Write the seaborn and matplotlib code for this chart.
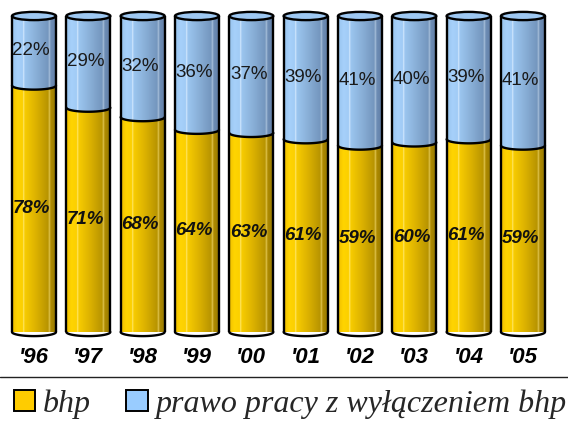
import numpy as np
import pandas as pd
import matplotlib.pyplot as plt
import seaborn as sns
from matplotlib.path import Path
from matplotlib.patches import PathPatch, Ellipse, Patch
from matplotlib.lines import Line2D
from matplotlib.colors import LinearSegmentedColormap

# data
years = ["'96", "'97", "'98", "'99", "'00", "'01", "'02", "'03", "'04", "'05"]
bhp = [78, 71, 68, 64, 63, 61, 59, 60, 61, 59]
prawo = [22, 29, 32, 36, 37, 39, 41, 40, 39, 41]

df = pd.DataFrame({"year": years, "bhp": bhp, "prawo": prawo})
df["total"] = df["bhp"] + df["prawo"]

gold = "#FFCC00"
blue = "#99CCFF"

sns.set_theme(style="white")
plt.rcParams["font.family"] = ["Liberation Sans", "DejaVu Sans"]

fig = plt.figure(figsize=(5.68, 4.26), dpi=100)
ax = fig.add_axes([0, 94 / 426, 1, 316 / 426])

bw = 0.81
sns.barplot(data=df, x="year", y="total", color=blue, width=bw, ax=ax,
            saturation=1, linewidth=0)
sns.barplot(data=df, x="year", y="bhp", color=gold, width=bw, ax=ax,
            saturation=1, linewidth=0)

# cylinder shading
gold_cmap = LinearSegmentedColormap.from_list("g", [
    (0.0, "#F0C000"), (0.12, "#FFD400"), (0.24, "#FCD000"), (0.26, "#FFEB80"),
    (0.28, "#F8CC00"), (0.55, "#DAB000"), (0.8, "#B89400"), (0.84, "#E0C450"),
    (0.86, "#B08C00"), (1.0, "#907400")])
blue_cmap = LinearSegmentedColormap.from_list("b", [
    (0.0, "#98C4EE"), (0.12, "#A6D0FA"), (0.24, "#A2CCF6"), (0.26, "#DDEEFF"),
    (0.28, "#9CC6F0"), (0.55, "#88AED6"), (0.8, "#7496BE"), (0.84, "#A8C0DA"),
    (0.86, "#6E8EB6"), (1.0, "#607CA4")])
grad = np.linspace(0, 1, 256).reshape(1, -1)
eh = 2.6  # ellipse height in data units


def seg_path(x0, x1, y0, y1):
    xc, a, b = (x0 + x1) / 2, (x1 - x0) / 2, eh / 2
    t = np.linspace(0, np.pi, 40)
    arc = np.column_stack([xc - a * np.cos(t), y0 - b * np.sin(t)])
    verts = np.vstack([[x0, y1], arc, [x1, y1], [x0, y1]])
    return Path(verts, closed=True)


n = len(years)
blue_bars = ax.patches[:n]
gold_bars = ax.patches[n:]
for gb, bb, vb, vp in zip(gold_bars, blue_bars, bhp, prawo):
    x0 = gb.get_x()
    x1 = x0 + gb.get_width()
    xc = (x0 + x1) / 2
    top = bb.get_height()
    mid = gb.get_height()
    for y0, y1, cmap in [(0, mid, gold_cmap), (mid, top, blue_cmap)]:
        p = PathPatch(seg_path(x0, x1, y0, y1), facecolor="none", edgecolor="none")
        ax.add_patch(p)
        im = ax.imshow(grad, cmap=cmap, aspect="auto", zorder=3,
                       extent=(x0, x1, y0 - eh, y1))
        im.set_clip_path(p)
    # outlines
    t = np.linspace(0, np.pi, 40)
    a = (x1 - x0) / 2
    for y in (0, mid):
        ax.plot(xc - a * np.cos(t), y - eh / 2 * np.sin(t), color="black",
                lw=1.7, zorder=5, clip_on=False)
    ax.plot([x0, x0], [0, top], color="black", lw=1.7, zorder=5)
    ax.plot([x1, x1], [0, top], color="black", lw=1.7, zorder=5)
    ax.add_patch(Ellipse((xc, top), x1 - x0, eh, facecolor="#9EC8F2",
                         edgecolor="black", lw=1.7, zorder=6, clip_on=False))
    ax.text(xc - 0.05, mid / 2, f"{vb}%", ha="center", va="center", fontsize=13.5,
            fontweight="bold", fontstyle="italic", color="#111111", zorder=7)
    ax.text(xc - 0.05, mid + vp / 2, f"{vp}%", ha="center", va="center",
            fontsize=13.5, color="#1a1a1a", zorder=7)

for p in ax.patches[:2 * n]:
    p.set_visible(False)

ax.set_xlim(-34 / 54.33, (568 - 34) / 54.33)
ax.set_ylim(0, 100)
ax.set_xlabel("")
ax.set_ylabel("")
ax.set_yticks([])
ax.tick_params(axis="x", length=0, pad=11)
for lab in ax.get_xticklabels():
    lab.set_fontsize(16)
    lab.set_fontweight("bold")
    lab.set_fontstyle("italic")
    lab.set_color("black")
for s in ax.spines.values():
    s.set_visible(False)

fig.add_artist(Line2D([0, 1], [1 - 377 / 426, 1 - 377 / 426], color="#222222", lw=1))

handles = [Patch(facecolor=gold, edgecolor="black", lw=1.4, label="bhp"),
           Patch(facecolor=blue, edgecolor="black", lw=1.4,
                 label="prawo pracy z wyłączeniem bhp")]
fig.legend(handles=handles, loc="center left", bbox_to_anchor=(0.024, 1 - 404 / 426),
           ncol=2, frameon=False, handlelength=0.67, handleheight=0.67,
           handletextpad=0.25, columnspacing=1.1, borderaxespad=0, borderpad=0,
           prop={"family": "Liberation Serif", "style": "italic", "size": 23})

fig.savefig("out.png", dpi=100)
